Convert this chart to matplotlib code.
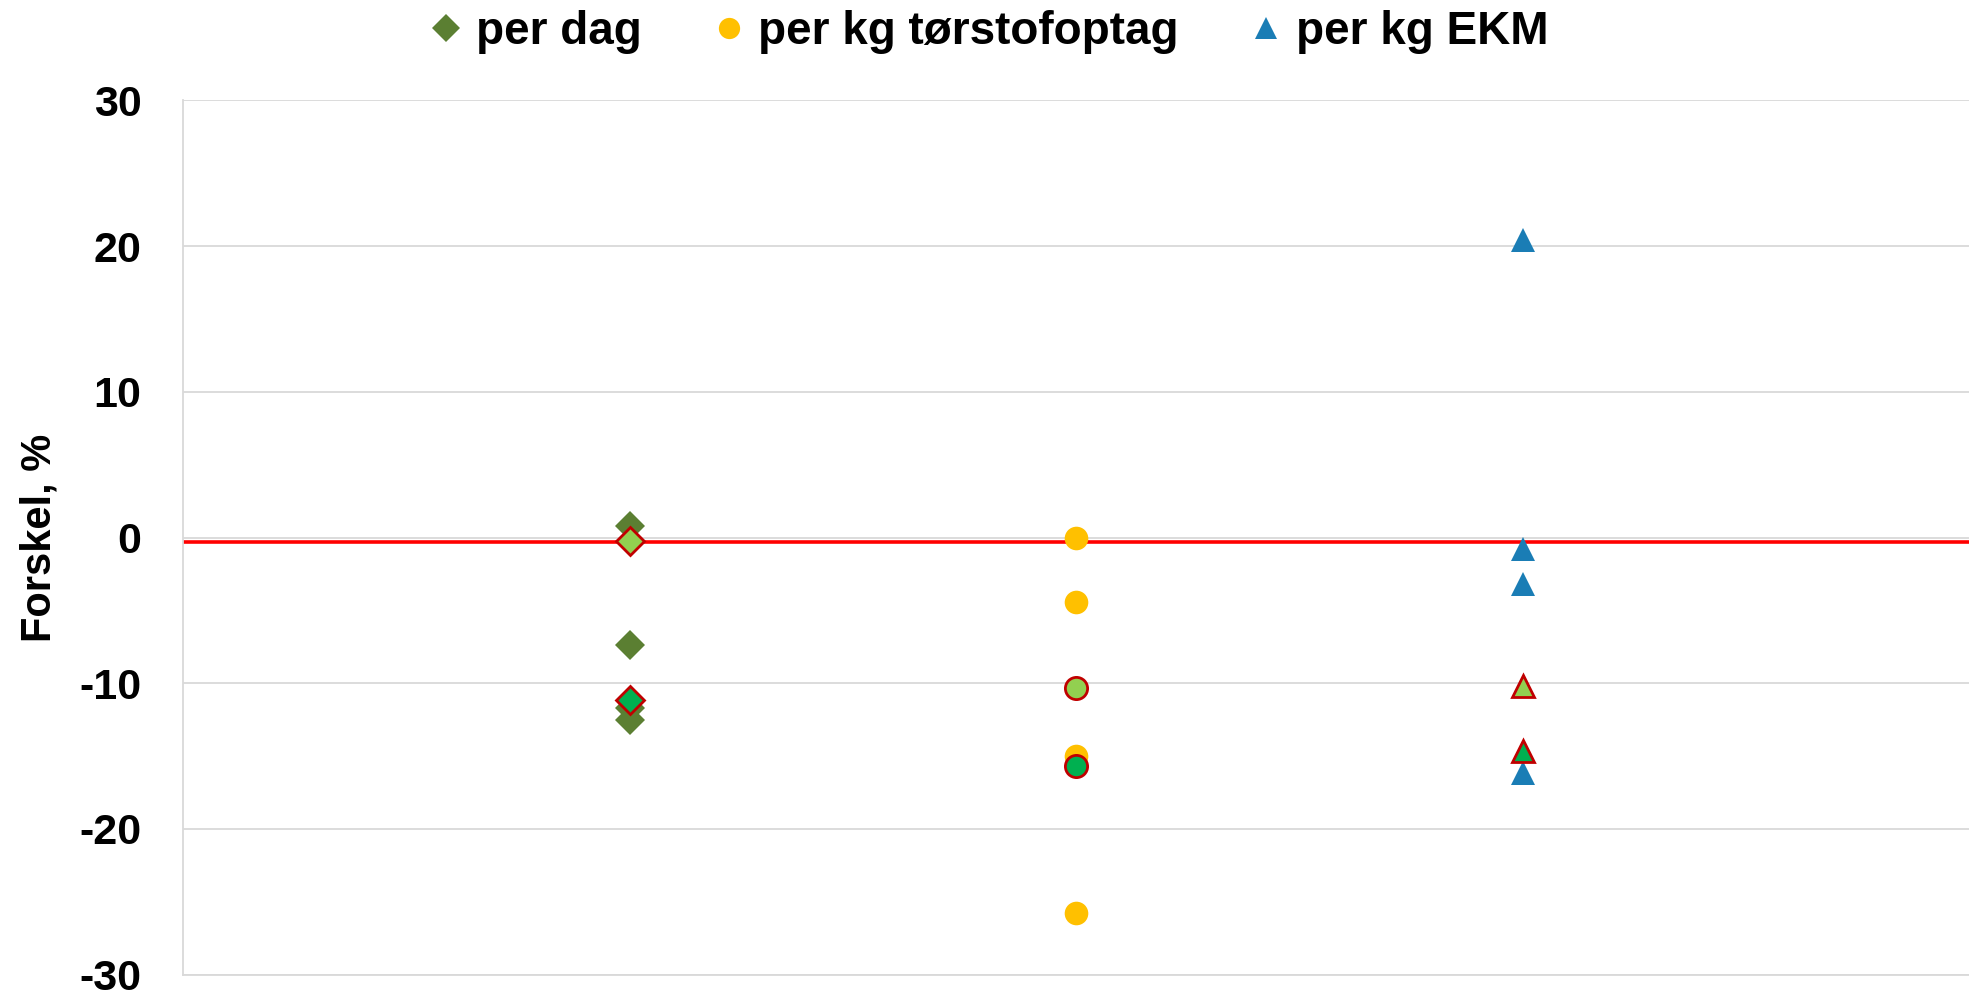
import matplotlib

matplotlib.use("Agg")
import matplotlib.pyplot as plt  # noqa: E402
from matplotlib.lines import Line2D  # noqa: E402
from matplotlib.ticker import FuncFormatter  # noqa: E402

plt.rcParams["font.family"] = ["Liberation Sans", "DejaVu Sans"]
plt.rcParams["font.weight"] = "bold"

# x positions of the three groups
positions = [1, 2, 3]
series_names = ["per dag", "per kg tørstofoptag", "per kg EKM"]

# values (Forskel, %)
per_dag = [0.8, -7.4, -11.7, -12.5]
per_kg_ts = [0.0, -4.4, -15.0, -25.8]
per_kg_ekm = [20.4, -0.8, -3.2, -16.2]

# highlighted points (light green and dark green with red edge)
highlight_light = [-0.25, -10.3, -10.2]
highlight_dark = [-11.15, -15.7, -14.65]

reference_level = -0.3

markers = ["D", "o", "^"]
marker_sizes = [15.5, 17, 17]
colors = ["#5B7F32", "#FFC000", "#1A7DB5"]

fig = plt.figure(figsize=(19.69, 9.94), dpi=100)
ax = fig.add_axes([0.093, 0.0196, 0.907, 0.8793])

ax.axhline(reference_level, color="#FF0000", linewidth=2.6, zorder=2)

handles = []
for pos, vals, m, ms, c, name in zip(
    positions, [per_dag, per_kg_ts, per_kg_ekm], markers, marker_sizes, colors, series_names
):
    ax.plot([pos] * len(vals), vals, linestyle="none", marker=m, markersize=ms,
            color=c, markeredgewidth=0, zorder=3)
    handles.append(Line2D([], [], linestyle="none", marker=m, markersize=ms,
                          color=c, markeredgewidth=0, label=name))

for pos, lv, dv, m, ms in zip(positions, highlight_light, highlight_dark, markers, marker_sizes):
    ax.plot([pos], [lv], linestyle="none", marker=m, markersize=ms - 1,
            markerfacecolor="#92D050", markeredgecolor="#C00000", markeredgewidth=2.0, zorder=4)
    ax.plot([pos], [dv], linestyle="none", marker=m, markersize=ms - 1,
            markerfacecolor="#00B050", markeredgecolor="#C00000", markeredgewidth=2.0, zorder=4)

ax.set_xlim(0, 4)
ax.set_ylim(-30, 30)
ax.set_yticks(range(-30, 31, 10))
ax.yaxis.set_major_formatter(FuncFormatter(lambda v, p: f"{v:.0f}"))
ax.set_xticks([])
ax.tick_params(axis="y", length=0, pad=30, labelsize=31)
for lbl in ax.get_yticklabels():
    lbl.set_fontweight("bold")

ax.grid(axis="y", color="#D9D9D9", linewidth=1.3, zorder=0)
ax.set_axisbelow(True)
for side in ["top", "right"]:
    ax.spines[side].set_visible(False)
ax.spines["left"].set_color("#D9D9D9")
ax.spines["bottom"].set_color("#D9D9D9")
ax.spines["left"].set_linewidth(1.3)
ax.spines["bottom"].set_linewidth(1.3)

ax.set_ylabel("Forskel, %", fontsize=30, fontweight="bold")
ax.yaxis.set_label_coords(-0.069, 0.5)

fig.legend(handles=handles, loc="center", bbox_to_anchor=(0.503, 0.968), ncol=3,
           frameon=False, fontsize=33, handlelength=0.6, handletextpad=0.35,
           columnspacing=1.6, markerscale=0.9)

fig.savefig("out.png", dpi=100)
plt.close(fig)
